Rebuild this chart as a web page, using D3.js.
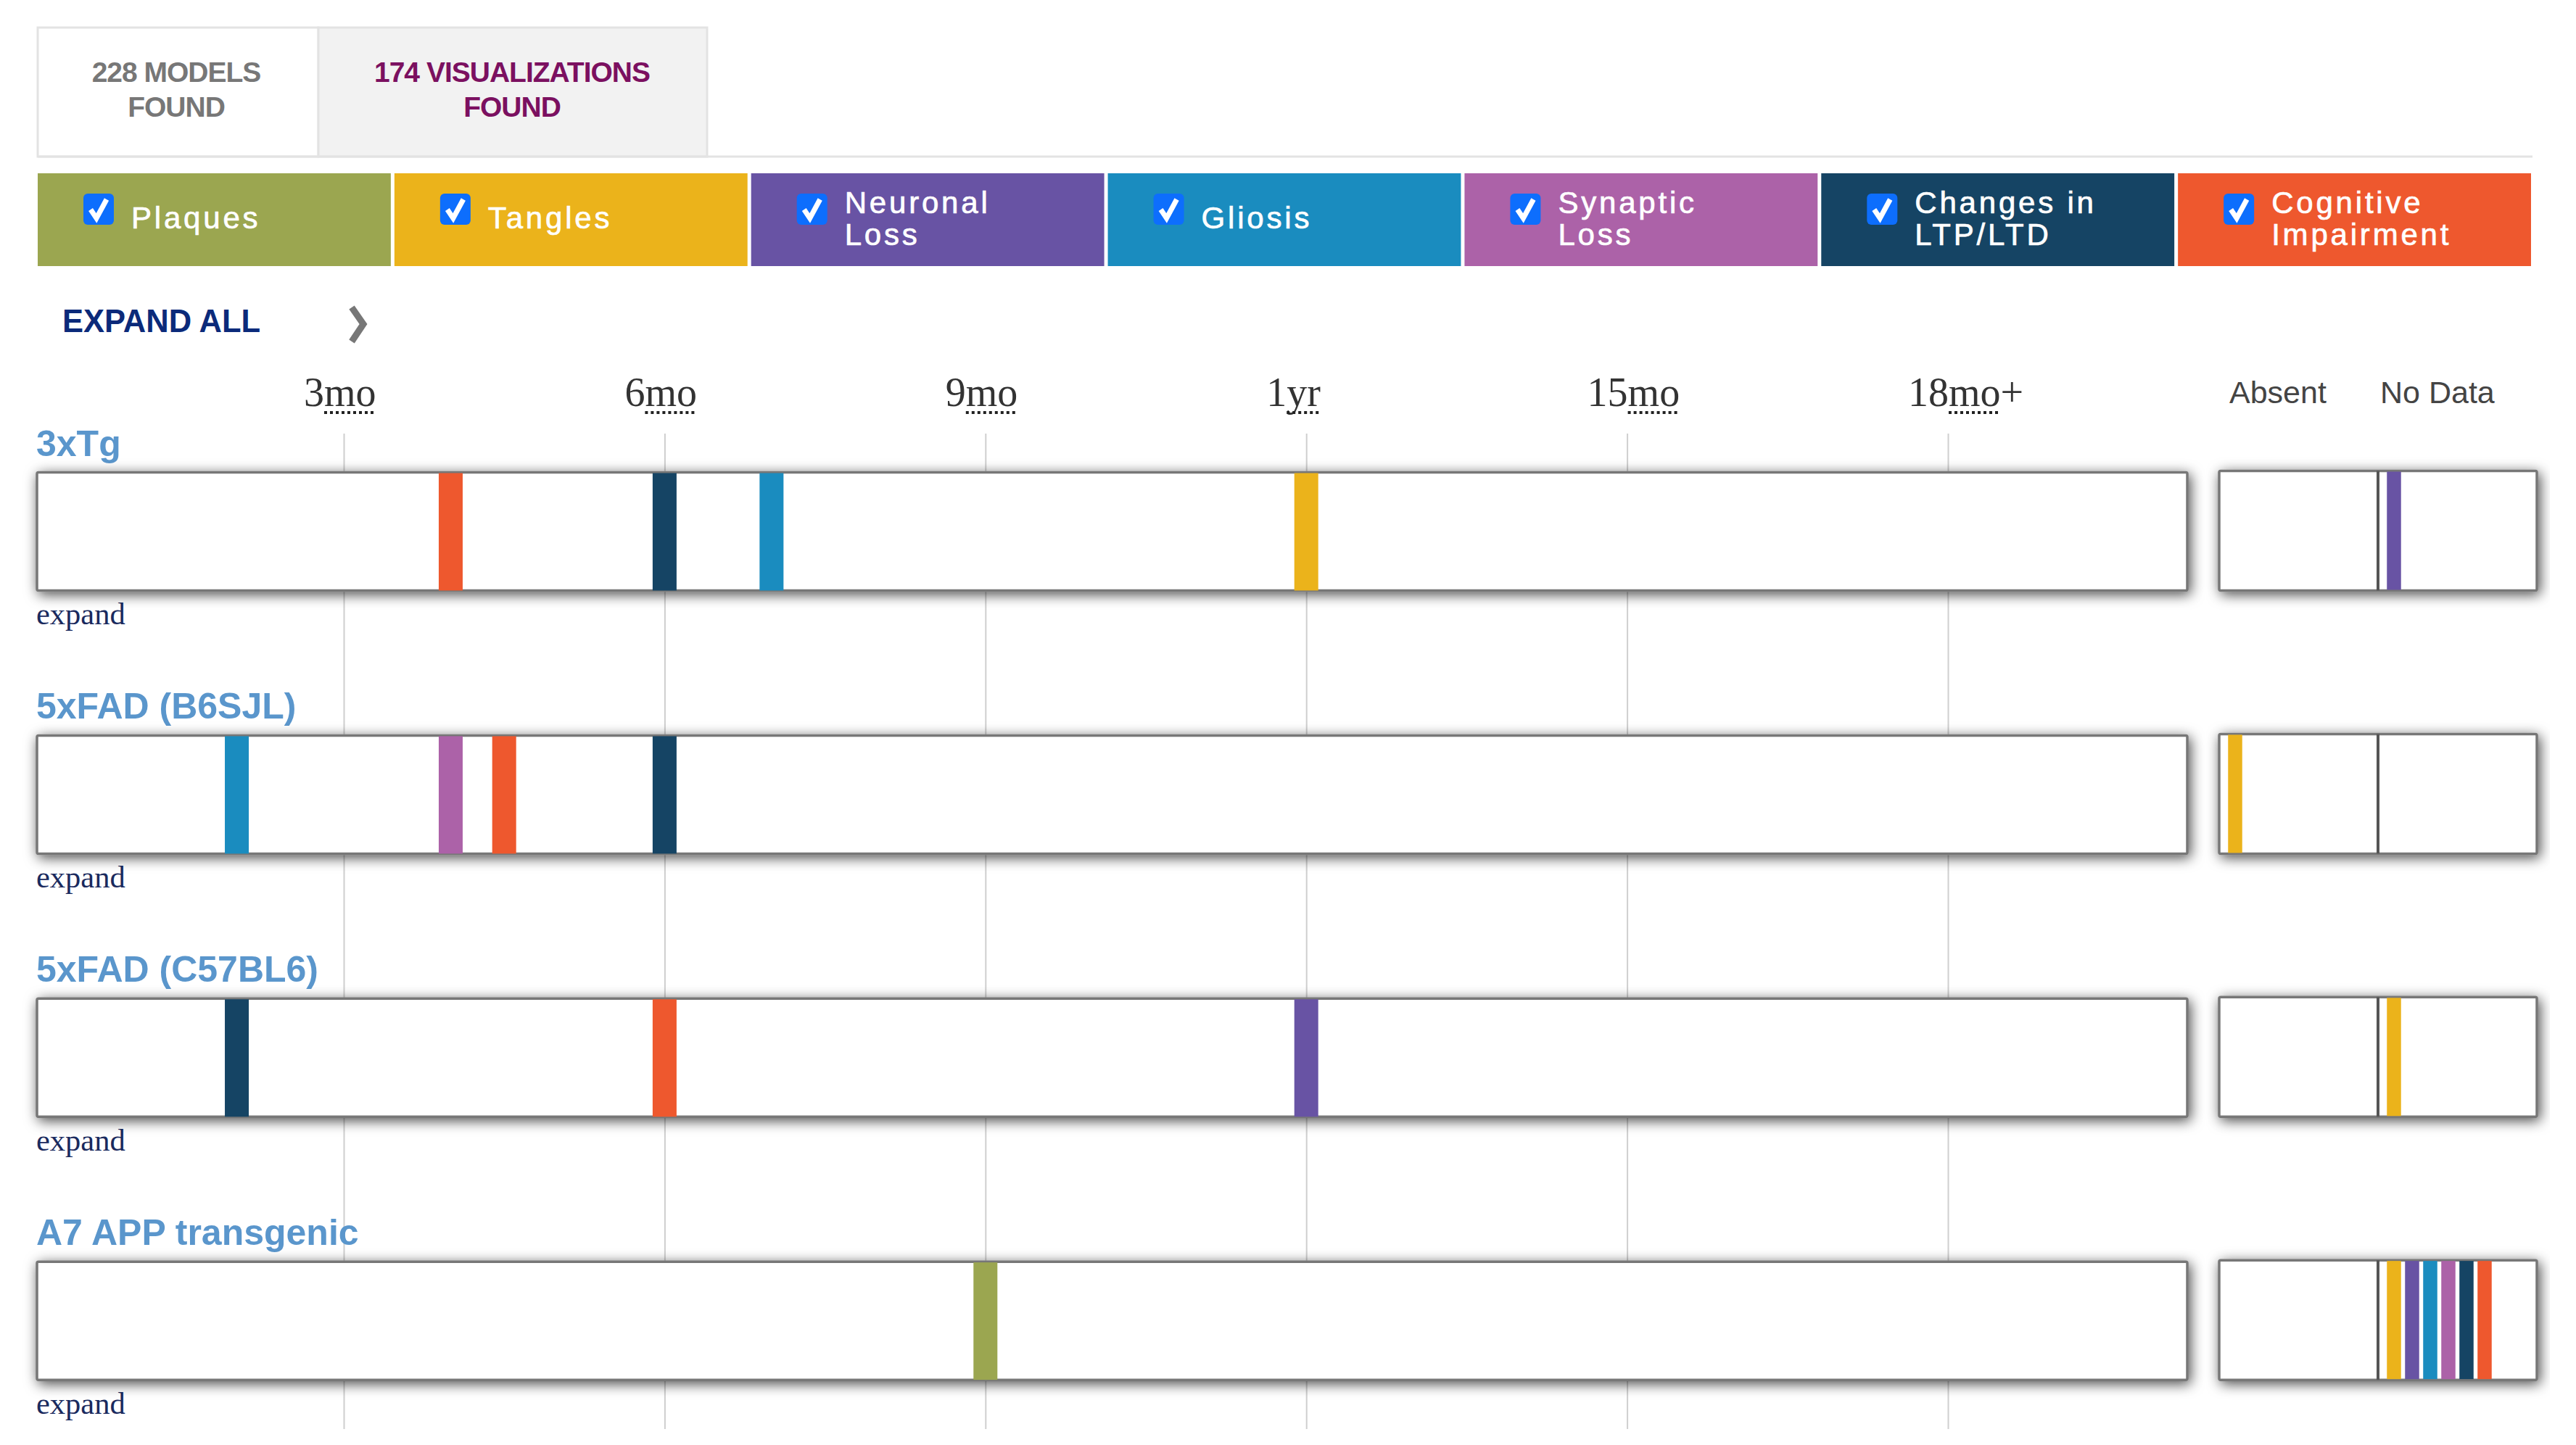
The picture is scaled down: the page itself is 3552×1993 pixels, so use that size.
<!DOCTYPE html>
<html>
<head>
<meta charset="utf-8">
<script src="https://cdnjs.cloudflare.com/ajax/libs/d3/7.8.5/d3.min.js"></script>
<style>
  html, body { margin: 0; padding: 0; background: #fff; }
  svg { display: block; }
</style>
</head>
<body>
<script>
'use strict';
const phenotypes = ["Plaques", "Tangles", "Neuronal Loss", "Gliosis", "Synaptic Loss", "Changes in LTP/LTD", "Cognitive Impairment"];
const phenotypeColors = ["#9ba650", "#ebb31b", "#6853a4", "#1a8cbf", "#ac62a8", "#154464", "#ee582e"];
const legendLines = [["Plaques"], ["Tangles"], ["Neuronal", "Loss"], ["Gliosis"], ["Synaptic", "Loss"], ["Changes in", "LTP/LTD"], ["Cognitive", "Impairment"]];

const ageTicks = [3, 6, 9, 12, 15, 18];
const ageTickLabels = [["3", "mo", ""], ["6", "mo", ""], ["9", "mo", ""], ["1", "yr", ""], ["15", "mo", ""], ["18", "mo", "+"]];

const models = ["3xTg", "5xFAD (B6SJL)", "5xFAD (C57BL6)", "A7 APP transgenic"];
// onset age in months per phenotype, one array per model
const onset3xTg = [["Cognitive Impairment", 4], ["Changes in LTP/LTD", 6], ["Gliosis", 7], ["Tangles", 12]];
const onsetB6SJL = [["Gliosis", 2], ["Synaptic Loss", 4], ["Cognitive Impairment", 4.5], ["Changes in LTP/LTD", 6]];
const onsetC57 = [["Changes in LTP/LTD", 2], ["Cognitive Impairment", 6], ["Neuronal Loss", 12]];
const onsetA7 = [["Plaques", 9]];
const onsets = [onset3xTg, onsetB6SJL, onsetC57, onsetA7];
const absent = [[], ["Tangles"], [], []];
const noData = [
  ["Neuronal Loss"],
  [],
  ["Tangles"],
  ["Tangles", "Neuronal Loss", "Gliosis", "Synaptic Loss", "Changes in LTP/LTD", "Cognitive Impairment"]
];

const width = 3552, height = 1993;
const sans = "'Liberation Sans', Arial, sans-serif";
const serif = "'Liberation Serif', 'Times New Roman', serif";

const svg = d3.select("body").append("svg").attr("width", width).attr("height", height);
const defs = svg.append("defs");
const shadow = defs.append("filter").attr("id", "shadow")
  .attr("x", "-4%").attr("y", "-25%").attr("width", "108%").attr("height", "150%");
shadow.append("feDropShadow").attr("dx", 3).attr("dy", 4).attr("stdDeviation", 9)
  .attr("flood-color", "#000").attr("flood-opacity", 0.7);

const color = d3.scaleOrdinal().domain(phenotypes).range(phenotypeColors);
const x = d3.scaleLinear().domain([3, 18]).range([474, 2686]);
const rowY = d3.scaleBand().domain(models).range([651.5, 2103]);
const boxH = 163;
const barW = 33;
const sideL = 3060, sideMid = 3279, sideR = 3498;
const slot = d3.scaleLinear().domain([0, 1]).range([22, 47]);

// tabs
svg.append("rect").attr("x", 52).attr("y", 38).attr("width", 387).attr("height", 178)
  .attr("fill", "#fff").attr("stroke", "#e3e3e3").attr("stroke-width", 3);
svg.append("rect").attr("x", 439).attr("y", 38).attr("width", 536).attr("height", 178)
  .attr("fill", "#f2f2f2").attr("stroke", "#e3e3e3").attr("stroke-width", 3);
svg.append("line").attr("x1", 52).attr("x2", 3492).attr("y1", 216).attr("y2", 216)
  .attr("stroke", "#e3e3e3").attr("stroke-width", 3);
[["228 MODELS", "FOUND", 243, "#777"], ["174 VISUALIZATIONS", "FOUND", 706, "#7b1060"]].forEach(t => {
  svg.append("text").attr("x", t[2]).attr("y", 113).text(t[0])
    .attr("text-anchor", "middle").attr("font-family", sans).attr("font-weight", "bold")
    .attr("font-size", 39).attr("letter-spacing", -1).attr("fill", t[3]);
  svg.append("text").attr("x", t[2]).attr("y", 161).text(t[1])
    .attr("text-anchor", "middle").attr("font-family", sans).attr("font-weight", "bold")
    .attr("font-size", 39).attr("letter-spacing", -1).attr("fill", t[3]);
});

// legend
const legendX = d3.scaleBand().domain(phenotypes).range([52, 3495]);
const legend = svg.append("g").selectAll("g").data(phenotypes).join("g")
  .attr("transform", d => `translate(${legendX(d)},239)`);
legend.append("rect").attr("width", legendX.bandwidth() - 5).attr("height", 128).attr("fill", d => color(d));
legend.append("rect").attr("x", 63).attr("y", 28).attr("width", 42).attr("height", 43).attr("rx", 6).attr("fill", "#0d6efd");
legend.append("path").attr("d", "M73 50 L81 62 L95 36").attr("fill", "none")
  .attr("stroke", "#fff").attr("stroke-width", 7);
legend.each(function (d, i) {
  const lines = legendLines[i];
  const g = d3.select(this);
  lines.forEach((line, j) => {
    g.append("text").attr("x", 129).attr("y", lines.length === 1 ? 76 : 55 + j * 44)
      .text(line).attr("font-family", sans).attr("font-size", 42).attr("letter-spacing", 3.8)
      .attr("fill", "#fff").attr("stroke", "#fff").attr("stroke-width", 0.7);
  });
});

// expand all
svg.append("text").attr("x", 86).attr("y", 458).text("EXPAND ALL")
  .attr("font-family", sans).attr("font-weight", "bold").attr("font-size", 43.5).attr("fill", "#0b2a7a");
svg.append("path").attr("d", "M485 424 L501 447 L485 471").attr("fill", "none")
  .attr("stroke", "#777").attr("stroke-width", 9);

// grid lines come from the axis
const axis = d3.axisBottom(x).tickValues(ageTicks).tickSize(1971 - 598).tickFormat("");
const axisG = svg.append("g").attr("transform", "translate(0,598)").call(axis);
axisG.select(".domain").remove();
axisG.selectAll("line").attr("stroke", "#cfcfcf").attr("stroke-width", 2);

// tick labels with the dotted abbreviation
ageTicks.forEach((t, i) => {
  const parts = ageTickLabels[i];
  const label = svg.append("text").attr("x", x(t) - 55).attr("y", 560)
    .attr("font-family", serif).attr("font-size", 56).attr("fill", "#333").text(parts.join(""));
  const node = label.node();
  const a = node.getSubStringLength(0, parts[0].length);
  const b = node.getSubStringLength(parts[0].length, parts[1].length);
  svg.append("line").attr("x1", x(t) - 55 + a).attr("x2", x(t) - 55 + a + b).attr("y1", 569).attr("y2", 569)
    .attr("stroke", "#222").attr("stroke-width", 4).attr("stroke-dasharray", "4 4");
});

svg.append("text").attr("x", 3074).attr("y", 556).text("Absent")
  .attr("font-family", sans).attr("font-size", 43).attr("fill", "#444");
svg.append("text").attr("x", 3282).attr("y", 556).text("No Data")
  .attr("font-family", sans).attr("font-size", 43).attr("fill", "#444");

// model rows
const rows = svg.append("g").selectAll("g").data(models).join("g")
  .attr("transform", d => `translate(0,${rowY(d)})`);
rows.append("text").attr("x", 50).attr("y", -23).text(d => d)
  .attr("font-family", sans).attr("font-weight", "bold").attr("font-size", 50).attr("fill", "#5a96cc");
rows.append("text").attr("x", 50).attr("y", 209.5).text("expand")
  .attr("font-family", serif).attr("font-size", 42.5).attr("fill", "#1a2a5e");
rows.append("rect").attr("x", 51).attr("y", 0).attr("width", 2965).attr("height", boxH)
  .attr("rx", 2).attr("fill", "#fff").attr("stroke", "#777").attr("stroke-width", 3.5).attr("filter", "url(#shadow)");
rows.append("rect").attr("x", sideL).attr("y", -2).attr("width", sideR - sideL).attr("height", boxH + 2)
  .attr("rx", 2).attr("fill", "#fff").attr("stroke", "#777").attr("stroke-width", 3.5).attr("filter", "url(#shadow)");

rows.each(function (d, i) {
  const g = d3.select(this);
  g.selectAll(".onset").data(onsets[i]).join("rect").attr("class", "onset")
    .attr("x", o => x(o[1]) - barW / 2).attr("y", 1).attr("width", barW).attr("height", boxH - 1)
    .attr("fill", o => color(o[0]));
  g.selectAll(".absent").data(absent[i]).join("rect").attr("class", "absent")
    .attr("x", (o, j) => sideL + slot(j) - 9.75).attr("y", -1).attr("width", 19.5).attr("height", boxH)
    .attr("fill", o => color(o));
  g.selectAll(".nodata").data(noData[i]).join("rect").attr("class", "nodata")
    .attr("x", (o, j) => sideMid + slot(j) - 9.75).attr("y", -1).attr("width", 19.5).attr("height", boxH)
    .attr("fill", o => color(o));
  g.append("line").attr("x1", sideMid).attr("x2", sideMid).attr("y1", -2).attr("y2", boxH)
    .attr("stroke", "#555").attr("stroke-width", 4);
});
</script>
</body>
</html>
